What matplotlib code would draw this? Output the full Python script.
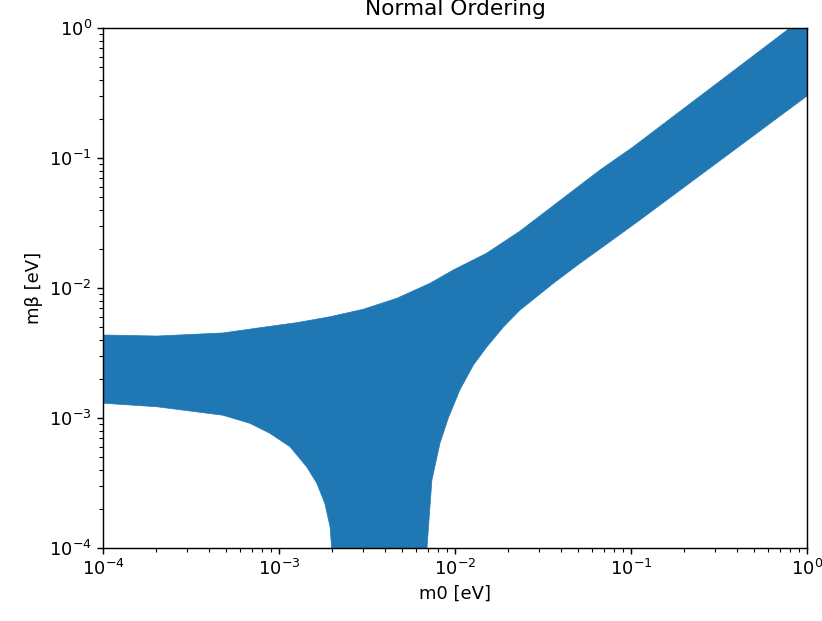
import numpy as np
import matplotlib
matplotlib.use("Agg")
import matplotlib.pyplot as plt

# Upper edge of the allowed band (m0 [eV], m_beta [eV])
upper_m0 = [1.0e-4, 2.03e-4, 4.81e-4, 8.15e-4, 1.26e-3, 1.95e-3, 3.01e-3, 4.67e-3,
            7.21e-3, 9.77e-3, 1.51e-2, 2.34e-2, 6.67e-2, 1.026e-1, 8.0e-1, 1.0]
upper_mb = [4.35e-3, 4.27e-3, 4.51e-3, 4.99e-3, 5.41e-3, 6.01e-3, 6.86e-3, 8.33e-3,
            1.087e-2, 1.375e-2, 1.85e-2, 2.74e-2, 8.09e-2, 1.215e-1, 1.0, 1.25]

# Lower edge of the allowed band (goes to ~0 inside the cancellation dip)
lower_m0 = [1.0e-4, 2.03e-4, 4.81e-4, 6.84e-4, 8.89e-4, 1.155e-3, 1.435e-3, 1.64e-3,
            1.82e-3, 1.95e-3, 1.99e-3, 2.02e-3, 6.9e-3, 6.93e-3, 7.39e-3, 8.22e-3,
            9.16e-3, 1.067e-2, 1.271e-2, 1.51e-2, 1.88e-2, 2.34e-2, 2.91e-2, 3.62e-2,
            5.13e-2, 6.67e-2, 1.125e-1, 1.0]
lower_mb = [1.30e-3, 1.22e-3, 1.05e-3, 9.10e-4, 7.62e-4, 6.01e-4, 4.22e-4, 3.15e-4,
            2.21e-4, 1.46e-4, 1.02e-4, 1.0e-6, 1.0e-6, 1.0e-4, 3.33e-4, 6.42e-4,
            1.0e-3, 1.65e-3, 2.55e-3, 3.5e-3, 5.0e-3, 6.77e-3, 8.57e-3, 1.087e-2,
            1.55e-2, 2.0e-2, 3.34e-2, 3.0e-1]

x_ticks = [1e-4, 1e-3, 1e-2, 1e-1, 1e0]
y_ticks = [1e-4, 1e-3, 1e-2, 1e-1, 1e0]

s = 1.3
plt.rcParams.update({
    "font.size": 10 * s,
    "axes.linewidth": 0.8 * s,
    "xtick.major.size": 3.5 * s, "ytick.major.size": 3.5 * s,
    "xtick.minor.size": 2 * s, "ytick.minor.size": 2 * s,
    "xtick.major.width": 0.8 * s, "ytick.major.width": 0.8 * s,
    "xtick.minor.width": 0.6 * s, "ytick.minor.width": 0.6 * s,
})

fig = plt.figure(figsize=(8.22, 6.21), dpi=100)
ax = fig.add_axes([103 / 822, 1 - 548 / 621, 704 / 822, 520 / 621])

poly_x = np.concatenate([upper_m0, lower_m0[::-1]])
poly_y = np.concatenate([upper_mb, lower_mb[::-1]])
ax.fill(poly_x, poly_y, color="#1f77b4", lw=0.5, ec="#1f77b4")

ax.set_xscale("log")
ax.set_yscale("log")
ax.set_xlim(1e-4, 1)
ax.set_ylim(1e-4, 1)
ax.set_xticks(x_ticks)
ax.set_yticks(y_ticks)
ax.set_xlabel("m0 [eV]")
ax.set_ylabel("mβ [eV]")
ax.set_title("Normal Ordering", fontsize=12 * s, pad=9.5)

fig.savefig("out.png", dpi=100)
